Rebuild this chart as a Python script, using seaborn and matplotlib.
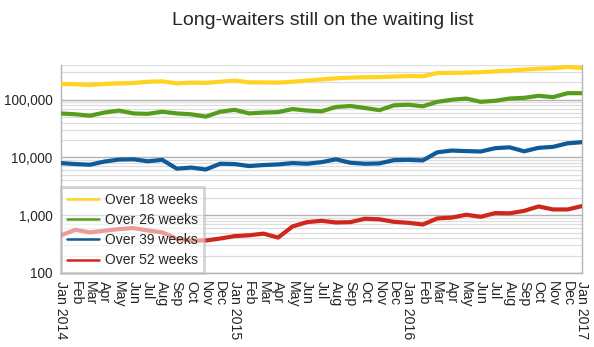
import matplotlib
matplotlib.use("Agg")
import matplotlib.pyplot as plt
import matplotlib.ticker as mticker
from matplotlib.lines import Line2D
import seaborn as sns
import pandas as pd
import numpy as np

months = ["Jan 2014", "Feb", "Mar", "Apr", "May", "Jun", "Jul", "Aug", "Sep", "Oct", "Nov", "Dec",
          "Jan 2015", "Feb", "Mar", "Apr", "May", "Jun", "Jul", "Aug", "Sep", "Oct", "Nov", "Dec",
          "Jan 2016", "Feb", "Mar", "Apr", "May", "Jun", "Jul", "Aug", "Sep", "Oct", "Nov", "Dec",
          "Jan 2017"]

over18 = [188000, 185000, 180000, 188000, 192000, 195000, 205000, 208000, 192000, 198000, 196000, 205000,
          215000, 200000, 200000, 198000, 205000, 215000, 225000, 235000, 242000, 245000, 247000, 252000,
          258000, 255000, 290000, 292000, 294000, 300000, 310000, 320000, 333000, 345000, 352000, 370000,
          355000]
over26 = [58000, 56000, 53000, 60000, 65000, 58000, 57000, 62000, 58000, 56000, 51000, 62000,
          67000, 58000, 60000, 61000, 69000, 65000, 63000, 75000, 78000, 72000, 66000, 80000,
          82000, 77000, 92000, 100000, 105000, 92000, 96000, 105000, 108000, 117000, 111000, 130000,
          130000]
over39 = [8000, 7700, 7500, 8500, 9200, 9300, 8600, 9100, 6400, 6700, 6200, 7800,
          7700, 7100, 7400, 7600, 8000, 7800, 8300, 9300, 8100, 7800, 7900, 9000,
          9100, 8900, 12300, 13200, 12900, 12700, 14500, 15000, 12800, 14700, 15300, 17600,
          18400]
over52 = [450, 560, 505, 540, 575, 600, 545, 505, 390, 365, 365, 395,
          435, 450, 480, 410, 640, 760, 800, 750, 760, 870, 850, 770,
          740, 690, 880, 910, 1020, 940, 1090, 1080, 1190, 1420, 1260, 1260,
          1440]

series_names = ["Over 18 weeks", "Over 26 weeks", "Over 39 weeks", "Over 52 weeks"]
colors = ["#FFD320", "#579D1C", "#0F5A98", "#D0261C"]

rows = []
for name, vals in zip(series_names, [over18, over26, over39, over52]):
    for i, v in enumerate(vals):
        rows.append({"month": i, "value": v, "series": name})
df = pd.DataFrame(rows)

sns.set_style("white")
plt.rcParams["font.family"] = ["Liberation Sans", "DejaVu Sans"]

fig = plt.figure(figsize=(5.94, 3.47), dpi=100)
ax = fig.add_axes([0.1027, 0.2133, 0.8771, 0.5994])

sns.lineplot(data=df, x="month", y="value", hue="series", hue_order=series_names,
             palette=colors, linewidth=3.0, ax=ax, legend=False, zorder=3)

ax.set_yscale("log")
ax.set_ylim(100, 400000)
ax.set_xlim(0, len(months) - 1)

ax.yaxis.set_major_locator(mticker.LogLocator(base=10, numticks=10))
ax.yaxis.set_minor_locator(mticker.LogLocator(base=10, subs=np.arange(2, 10), numticks=20))
ax.yaxis.set_major_formatter(mticker.FuncFormatter(lambda v, p: f"{int(round(v)):,}"))
ax.yaxis.set_minor_formatter(mticker.NullFormatter())

ax.grid(True, which="major", axis="y", color="#b3b3b3", linewidth=1.0, zorder=0)
ax.grid(True, which="minor", axis="y", color="#dedede", linewidth=0.9, zorder=0)
ax.grid(False, axis="x")

ax.set_xticks(range(len(months)))
ax.set_xticklabels(months, rotation=270, ha="center", va="top", fontsize=10.2)
ax.tick_params(axis="x", which="major", length=4, width=0.8, color="#b3b3b3", pad=2)
ax.tick_params(axis="y", which="major", length=4, width=0.8, color="#b3b3b3", labelsize=9.8, pad=2)
ax.tick_params(axis="y", which="minor", length=0)

for s in ["left", "right", "bottom"]:
    ax.spines[s].set_visible(True)
    ax.spines[s].set_color("#b3b3b3")
    ax.spines[s].set_linewidth(1.0)
ax.spines["top"].set_visible(False)

ax.set_xlabel("")
ax.set_ylabel("")

handles = [Line2D([0], [0], color=c, lw=1.8) for c in colors]
leg = ax.legend(handles, series_names, loc="lower left", bbox_to_anchor=(0, 0),
                borderaxespad=0.0, fontsize=10, frameon=True, fancybox=False,
                framealpha=0.55, edgecolor="#b3b3b3", handlelength=2.35,
                handletextpad=0.45, labelspacing=0.45, borderpad=0.4)
leg.get_frame().set_linewidth(2.0)
leg.set_zorder(5)

fig.text(0.543, 0.942, "Long-waiters still on the waiting list", ha="center", va="center",
         fontsize=14)

fig.savefig("out.png", dpi=100)
